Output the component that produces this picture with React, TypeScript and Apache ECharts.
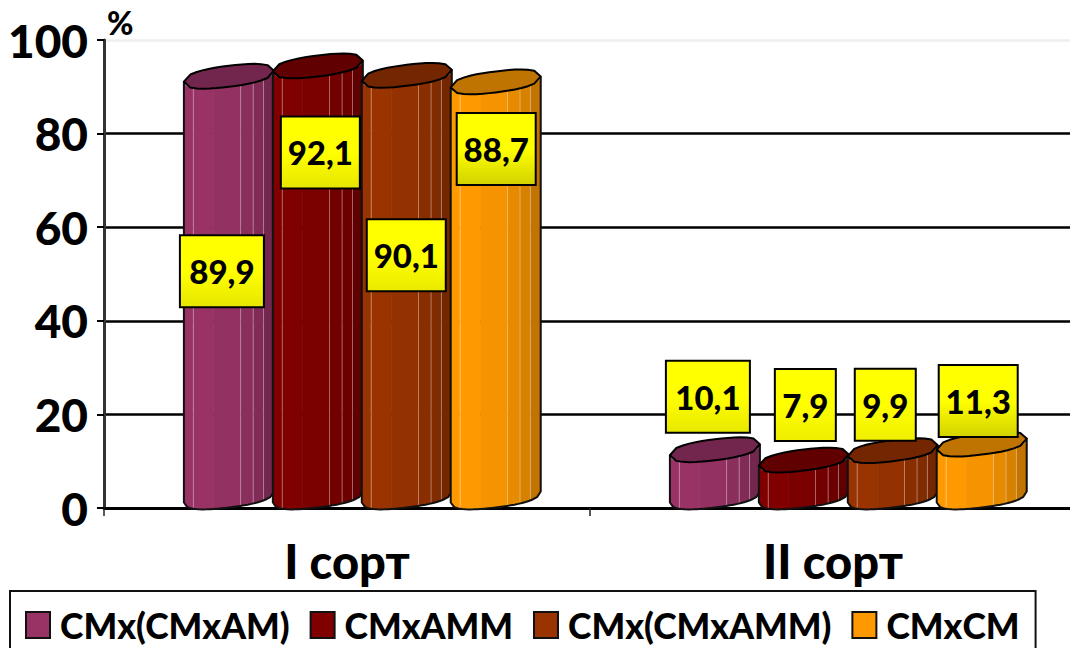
import React, { useEffect, useRef } from "react";
import * as echarts from "echarts";

const categories = ["I сорт", "II сорт"];
const hybrids = ["СМх(СМхАМ)", "СМхАММ", "СМх(СМхАММ)", "СМхСМ"];
const firstHybrid = [89.9, 10.1];
const secondHybrid = [92.1, 7.9];
const thirdHybrid = [90.1, 9.9];
const fourthHybrid = [88.7, 11.3];
const seriesValues = [firstHybrid, secondHybrid, thirdHybrid, fourthHybrid];
const yTicks = [0, 20, 40, 60, 80, 100];

const colors = ["#993366", "#800000", "#993300", "#FF9900"];
const FONT = "Lato, 'Noto Sans', sans-serif";

// Horizontal shift of each cylinder from its category centre, as a share of the band.
const barShift = [-0.243, -0.06, 0.123, 0.306];
const RX = 45;
const RY = 10.5;
const TILT = 5.5;
const LIFT = 11;
const POWER = 2.4;
const facets = [0, 0.1, 0.33, 0.63, 0.77, 0.885, 1];
const facetShade = [1, 1, 0.96, 0.9, 0.84, 0.76];
const highlightAt = [0.106, 0.63, 0.77, 0.885];

// Placement of the value boxes relative to each bar's value point: dx, dy, width, height, lower fill.
const boxLayout = [
  [[-7, 184, 84, 72, "#e6e600"], [-7, -64, 84, 72, "#e8e800"]],
  [[2.5, 75.5, 79, 72, "#e6e600"], [1.5, -66, 61, 72, "#eeee00"]],
  [[-0.5, 169, 79, 72, "#eaea00"], [-7.5, -57, 61, 72, "#f0f000"]],
  [[0.5, 56, 79, 72, "#d2d200"], [-3.5, -54, 79, 72, "#d2d200"]],
];

function shade(hex: string, k: number) {
  const n = parseInt(hex.slice(1), 16);
  const c = [(n >> 16) & 255, (n >> 8) & 255, n & 255].map((v) => Math.round(v * k));
  return `rgb(${c[0]},${c[1]},${c[2]})`;
}

// Point on a rounded, tilted rim; u runs -1..1 from left to right, side is +1 in front and -1 behind.
function rimPoint(cx: number, cy: number, u: number, side: number) {
  const h = Math.pow(Math.max(0, 1 - Math.pow(Math.abs(u), POWER)), 1 / POWER);
  return [cx + RX * u, cy + side * RY * h - TILT * u];
}
function rim(cx: number, cy: number, f: number) {
  return rimPoint(cx, cy, 2 * f - 1, 1);
}

function cylinderItem(seriesIndex: number) {
  const base = colors[seriesIndex];
  return (_params: any, api: any) => {
    const cat = api.value(0);
    const val = api.value(1);
    const band = api.size([1, 0])[0];
    const top = api.coord([cat, val]);
    const zero = api.coord([cat, 0]);
    const cx = top[0] + band * barShift[seriesIndex];
    const topY = top[1] - LIFT;
    const botY = zero[1] - LIFT;
    const children: any[] = [];

    for (let i = 0; i < facetShade.length; i++) {
      const a = facets[i];
      const b = facets[i + 1];
      const pts: number[][] = [];
      const steps = 5;
      for (let s = 0; s <= steps; s++) pts.push(rim(cx, topY, a + ((b - a) * s) / steps));
      for (let s = steps; s >= 0; s--) pts.push(rim(cx, botY, a + ((b - a) * s) / steps));
      children.push({
        type: "polygon",
        shape: { points: pts },
        style: { fill: shade(base, facetShade[i]), stroke: shade(base, facetShade[i]), lineWidth: 0.6 },
      });
    }

    highlightAt.forEach((f) => {
      const p = rim(cx, topY, f);
      const q = rim(cx, botY, f);
      children.push({
        type: "line",
        shape: { x1: p[0], y1: p[1], x2: q[0], y2: q[1] },
        style: { stroke: "rgba(255,255,255,0.38)", lineWidth: 1 },
      });
    });

    const outline: number[][] = [rim(cx, topY, 0)];
    for (let s = 0; s <= 24; s++) outline.push(rim(cx, botY, s / 24));
    outline.push(rim(cx, topY, 1));
    children.push({
      type: "polyline",
      shape: { points: outline },
      style: { fill: "none", stroke: "#111", lineWidth: 2, lineJoin: "round" },
    });

    const cap: number[][] = [];
    for (let s = 0; s <= 14; s++) cap.push(rim(cx, topY, s / 14));
    for (let s = 13; s >= 1; s--) cap.push(rimPoint(cx, topY, (2 * s) / 14 - 1, -1));
    children.push({
      type: "polygon",
      shape: { points: cap },
      style: { fill: shade(base, 0.75), stroke: "#000", lineWidth: 2, lineJoin: "round" },
    });

    return { type: "group", children };
  };
}

function boxItem(seriesIndex: number) {
  return (_params: any, api: any) => {
    const cat = api.value(0);
    const val = api.value(1);
    const band = api.size([1, 0])[0];
    const top = api.coord([cat, val]);
    const [dx, dy, w, h, lower] = boxLayout[seriesIndex][cat] as [number, number, number, number, string];
    const cx = top[0] + band * barShift[seriesIndex] + dx;
    const cy = top[1] + dy;
    return {
      type: "group",
      children: [
        {
          type: "rect",
          shape: { x: cx - w / 2, y: cy - h / 2, width: w, height: h },
          style: {
            fill: new echarts.graphic.LinearGradient(0, 0, 0, 1, [
              { offset: 0, color: "#ffff00" },
              { offset: 0.5, color: "#ffff00" },
              { offset: 1, color: lower },
            ]),
            stroke: "#000",
            lineWidth: 2,
          },
        },
        {
          type: "text",
          x: cx,
          y: cy,
          style: {
            text: String(val).replace(".", ","),
            fill: "#000",
            font: `900 33px ${FONT}`,
            align: "center",
            verticalAlign: "middle",
          },
        },
      ],
    };
  };
}

export default function App() {
  const ref = useRef<HTMLDivElement>(null);

  useEffect(() => {
    document.body.style.margin = "0";
    const chart = echarts.init(ref.current!, null, { renderer: "svg" });

    const bars = hybrids.map((name, i) => ({
      name,
      type: "custom",
      coordinateSystem: "cartesian2d",
      renderItem: cylinderItem(i),
      encode: { x: 0, y: 1 },
      data: seriesValues[i].map((v, c) => [c, v]),
      itemStyle: { color: colors[i], borderColor: "#111", borderWidth: 2 },
      clip: false,
      silent: true,
      z: 2 + i,
    }));
    const boxes = hybrids.map((_, i) => ({
      name: `box${i}`,
      type: "custom",
      coordinateSystem: "cartesian2d",
      renderItem: boxItem(i),
      encode: { x: 0, y: 1 },
      data: seriesValues[i].map((v, c) => [c, v]),
      clip: false,
      silent: true,
      z: 10,
    }));

    chart.setOption({
      animation: false,
      backgroundColor: "#ffffff",
      grid: { left: 104, top: 40, width: 972, height: 468, outerBoundsMode: "none" },
      legend: {
        data: hybrids,
        left: 10,
        top: 591,
        padding: [16, 16, 20, 15],
        icon: "rect",
        itemWidth: 24,
        itemHeight: 26,
        itemGap: 20,
        borderColor: "#111",
        borderWidth: 2,
        textStyle: { fontFamily: FONT, fontWeight: 900, fontSize: 35.5, color: "#000", padding: [0, 0, 0, 5] },
      },
      xAxis: {
        type: "category",
        data: categories,
        axisLine: { lineStyle: { color: "#000", width: 3 } },
        axisTick: { show: true, length: 8, lineStyle: { color: "#222", width: 1.5 } },
        axisLabel: { fontFamily: FONT, fontWeight: 900, fontSize: 47, color: "#000", margin: 29 },
      },
      yAxis: {
        type: "value",
        min: 0,
        max: 100,
        interval: yTicks[1] - yTicks[0],
        name: "%",
        nameLocation: "end",
        nameGap: 2,
        nameTextStyle: { fontFamily: FONT, fontWeight: 900, fontSize: 32, color: "#000", align: "left", padding: [0, 0, 0, 3] },
        axisLine: { show: true, lineStyle: { color: "#333", width: 3 } },
        axisTick: { show: true, length: 7, lineStyle: { color: "#000", width: 2 } },
        axisLabel: { fontFamily: FONT, fontWeight: 900, fontSize: 46, color: "#000", margin: 16 },
        splitLine: { show: true, lineStyle: { color: ["#000", "#000", "#000", "#000", "#000", "#eeeeee"], width: 2.5 } },
      },
      series: [...bars, ...boxes],
    });
    return () => chart.dispose();
  }, []);

  return <div ref={ref} style={{ width: 1070, height: 648 }} />;
}
